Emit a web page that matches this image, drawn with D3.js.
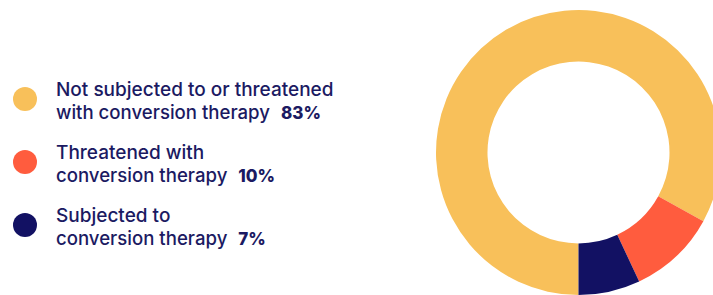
<!DOCTYPE html>
<html><head><meta charset="utf-8">
<script src="https://cdn.jsdelivr.net/npm/d3@7"></script>
<style>html,body{margin:0;padding:0;background:#fff;}svg{display:block;}</style>
</head><body>
<svg id="chart" width="713" height="295"></svg>
<script>
const categories = ["Not subjected to or threatened with conversion therapy", "Threatened with conversion therapy", "Subjected to conversion therapy"];
const labelLines = [["Not subjected to or threatened", "with conversion therapy"], ["Threatened with", "conversion therapy"], ["Subjected to", "conversion therapy"]];
const values = [83, 10, 7];
const percentLabels = ["83%", "10%", "7%"];
const colors = ["#F8C05A", "#FF5C3E", "#121163"];

const svg = d3.select("#chart");
const textColor = "#1b1a62";
const color = d3.scaleOrdinal().domain(categories).range(colors);

const data = categories.map((c, i) => ({cat: c, value: values[i], lines: labelLines[i], pct: percentLabels[i]}));

const pie = d3.pie().value(d => d.value).sort(null).startAngle(Math.PI).endAngle(3 * Math.PI);
const arc = d3.arc().innerRadius(91).outerRadius(142.5);

svg.append("g").attr("transform", "translate(578.5,152.5)")
  .selectAll("path").data(pie(data)).join("path")
  .attr("d", arc).attr("fill", d => color(d.data.cat));

const legendY = d3.scalePoint().domain(categories).range([99, 225]);
const font = "Inter, 'Open Sans', sans-serif";
const lg = svg.append("g").selectAll("g").data(data).join("g")
  .attr("transform", d => `translate(0,${legendY(d.cat)})`);
lg.append("circle").attr("cx", 25).attr("cy", 0).attr("r", 12).attr("fill", d => color(d.cat));
lg.each(function(d) {
  const g = d3.select(this);
  g.append("text").attr("x", 56).attr("y", -3).attr("font-family", font).attr("font-size", 19)
    .attr("font-weight", 500).attr("fill", textColor).text(d.lines[0]);
  const t2 = g.append("text").attr("x", 56).attr("y", 20).attr("font-family", font).attr("font-size", 18.6)
    .attr("font-weight", 500).attr("fill", textColor);
  t2.append("tspan").text(d.lines[1]);
  t2.append("tspan").attr("dx", 11).attr("font-weight", 800).attr("font-size", 17).text(d.pct);
});
</script>
</body></html>
